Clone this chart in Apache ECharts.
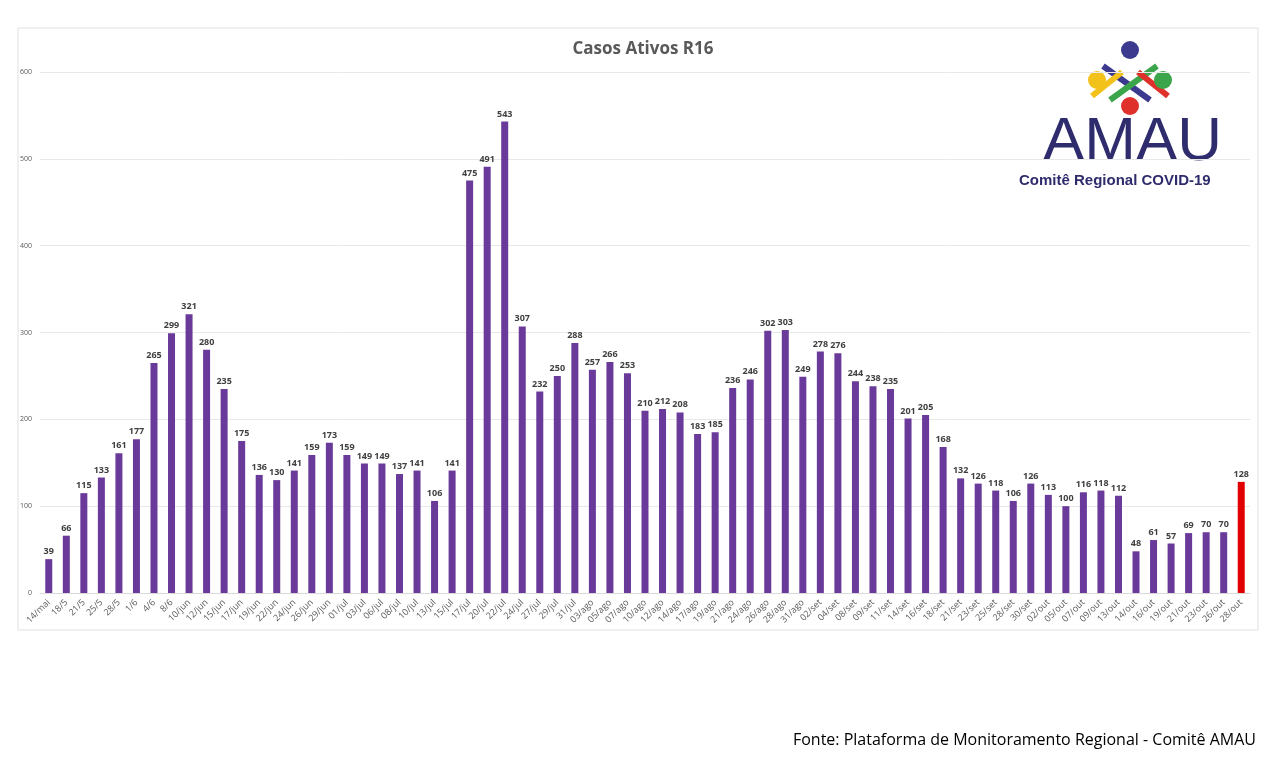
<!DOCTYPE html><html><head><meta charset="utf-8"><script src="https://cdn.jsdelivr.net/npm/echarts@6/dist/echarts.min.js"></script>
<style>body{margin:0;background:#fff}#c{width:1280px;height:763px}</style></head><body><div id="c"></div><script>
const categories=["14/mai","18/5","21/5","25/5","28/5","1/6","4/6","8/6","10/jun","12/jun","15/jun","17/jun","19/jun","22/jun","24/jun","26/jun","29/jun","01/jul","03/jul","06/jul","08/jul","10/jul","13/jul","15/jul","17/jul","20/jul","22/jul","24/jul","27/jul","29/jul","31/jul","03/ago","05/ago","07/ago","10/ago","12/ago","14/ago","17/ago","19/ago","21/ago","24/ago","26/ago","28/ago","31/ago","02/set","04/set","08/set","09/set","11/set","14/set","16/set","18/set","21/set","23/set","25/set","28/set","30/set","02/out","05/out","07/out","09/out","13/out","14/out","16/out","19/out","21/out","23/out","26/out","28/out"];
const values=[39,66,115,133,161,177,265,299,321,280,235,175,136,130,141,159,173,159,149,149,137,141,106,141,475,491,543,307,232,250,288,257,266,253,210,212,208,183,185,236,246,302,303,249,278,276,244,238,235,201,205,168,132,126,118,106,126,113,100,116,118,112,48,61,57,69,70,70,128];
const chart=echarts.init(document.getElementById('c'));
const font='Open Sans';
chart.setOption({
 animation:false,
 title:{text:'Casos Ativos R16',left:638,top:36,textAlign:'center',textStyle:{fontFamily:font,fontSize:17,fontWeight:'bold',color:'#595959'}},
 grid:{left:40,right:30,top:72,bottom:170},
 xAxis:{type:'category',data:categories,axisTick:{show:false},axisLine:{lineStyle:{color:'#d9d9d9'}},
  axisLabel:{rotate:45,interval:0,fontFamily:font,fontSize:9,color:'#595959'}},
 yAxis:{type:'value',min:0,max:600,interval:100,axisLabel:{fontSize:7,color:'#595959',fontFamily:font},splitLine:{lineStyle:{color:'#e8e8e8'}}},
 series:[{type:'bar',data:values.map((v,i)=>({value:v,itemStyle:{color:i===values.length-1?'#e00000':'#6a3a9a'}})),barWidth:7,
  label:{show:true,position:'top',fontFamily:font,fontSize:9,fontWeight:'bold',color:'#404040',distance:3}}],
 graphic:[
  {type:'rect',shape:{x:18,y:28,width:1240,height:602},style:{fill:'none',stroke:'#e0e0e0'}},
  {type:'rect',shape:{x:1020,y:42,width:230,height:160},style:{fill:'#fff'}},
  {type:'line',shape:{x1:1103,y1:66,x2:1150,y2:100},style:{stroke:'#3b3a8f',lineWidth:6}},
  {type:'line',shape:{x1:1157,y1:66,x2:1110,y2:100},style:{stroke:'#3aa54a',lineWidth:6}},
  {type:'line',shape:{x1:1092,y1:96,x2:1122,y2:72},style:{stroke:'#f2c21b',lineWidth:6}},
  {type:'line',shape:{x1:1168,y1:96,x2:1138,y2:72},style:{stroke:'#e0302b',lineWidth:6}},
  {type:'circle',shape:{cx:1130,cy:50,r:9},style:{fill:'#3b3a8f'}},
  {type:'circle',shape:{cx:1097,cy:80,r:9},style:{fill:'#f2c21b'}},
  {type:'circle',shape:{cx:1163,cy:80,r:9},style:{fill:'#3aa54a'}},
  {type:'circle',shape:{cx:1130,cy:106,r:9},style:{fill:'#e0302b'}},
  {type:'text',left:1043,top:112,style:{text:'AMAU',font:'62px "Liberation Sans"',fill:'#2f2c6e'}},
  {type:'text',left:1019,top:173,style:{text:'Comitê Regional COVID-19',font:'bold 15px "Liberation Sans"',fill:'#2f2c6e'}},
  {type:'text',right:24,top:732,style:{text:'Fonte: Plataforma de Monitoramento Regional - Comitê AMAU',font:'16px "Open Sans"',fill:'#000'}}
 ]
});
</script></body></html>
